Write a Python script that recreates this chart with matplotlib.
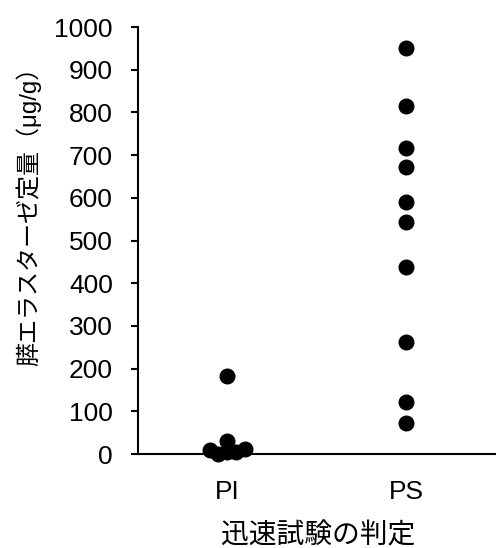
import matplotlib as mpl
mpl.use('Agg')
import matplotlib.pyplot as plt

# data
groups = ["PI", "PS"]
pi_values = [183, 30, 9, 1, 4, 5, 12]
pi_offsets = [0, 0, -0.1, -0.05, 0, 0.05, 0.1]   # swarm spread so dots don't hide
ps_values = [950, 815, 717, 672, 590, 543, 438, 262, 122, 73]
ps_offsets = [0] * len(ps_values)
yticks = [0, 100, 200, 300, 400, 500, 600, 700, 800, 900, 1000]

plt.rcParams['font.family'] = ['Liberation Sans', 'Noto Sans CJK JP']

fig = plt.figure(figsize=(4.96, 5.48), dpi=100)
ax = fig.add_axes([0.278, 0.1715, 0.722, 0.7792])

for i, (vals, offs) in enumerate([(pi_values, pi_offsets), (ps_values, ps_offsets)]):
    xs = [i + 1 + o for o in offs]
    ax.plot(xs, vals, 'o', color='black', markersize=10.5, linestyle='none',
            clip_on=False, zorder=3)

ax.set_xlim(0.5, 2.5)
ax.set_ylim(0, 1000)
ax.set_yticks(yticks)
ax.set_xticks([1, 2])
ax.set_xticklabels(groups)

for side in ['top', 'right']:
    ax.spines[side].set_visible(False)
for side in ['left', 'bottom']:
    ax.spines[side].set_linewidth(1.5)

ax.tick_params(axis='y', direction='out', length=5, width=1.5, labelsize=19, pad=13)
ax.tick_params(axis='x', length=0, labelsize=19, pad=19)

ax.set_xlabel('迅速試験の判定', fontsize=20)
ax.xaxis.set_label_coords(0.503, -0.162)
ax.set_ylabel('膵エラスターゼ定量（μg/g）', fontsize=17.3)
ax.yaxis.set_label_coords(-0.27, 0.57)

plt.savefig('out.png', dpi=100)
